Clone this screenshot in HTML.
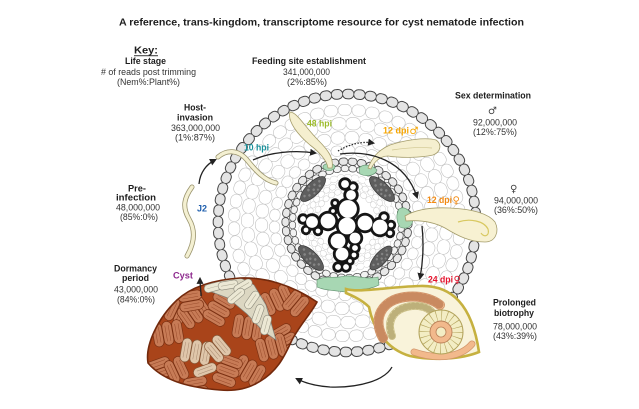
<!DOCTYPE html>
<html><head><meta charset="utf-8">
<style>
html,body{margin:0;padding:0;background:#fff;}
svg{display:block;}
text{font-family:"Liberation Sans","DejaVu Sans",sans-serif;}
.b{font-weight:bold;fill:#1e1e1e;}
.n{fill:#333;}
.sym{font-family:"DejaVu Sans",sans-serif;font-weight:normal;}
</style></head><body>
<svg width="639" height="409" viewBox="0 0 639 409" xmlns="http://www.w3.org/2000/svg">
<defs>
 <marker id="ah" viewBox="0 0 10 10" refX="7" refY="5" markerWidth="7" markerHeight="7" orient="auto" markerUnits="userSpaceOnUse">
   <path d="M0,0 L10,5 L0,10 Z" fill="#222"/>
 </marker>
 <clipPath id="cc"><path d="M148,363 C145,345 158,318 177,300 C190,288 210,280 240,278 C265,277 292,285 317,302 C312,312 300,325 292,340 C285,355 278,372 257,383 C245,390 232,391 220,390 C195,388 165,383 148,363 Z"/></clipPath>
 <g id="egg"><rect x="-4.8" y="-12" width="9.6" height="24" rx="4.8" fill="#c77b56" stroke="#7a3012" stroke-width="0.7"/><path d="M-1.7,-8 V8 M1.7,-8 V8" stroke="#984a2a" stroke-width="0.5" fill="none"/></g>
 <g id="egg2"><rect x="-4.8" y="-12" width="9.6" height="24" rx="4.8" fill="#dfc6aa" stroke="#845636" stroke-width="0.7"/><path d="M-1.7,-8 V8 M1.7,-8 V8" stroke="#a88a70" stroke-width="0.5" fill="none"/></g>
 <g id="egg3"><rect x="-4" y="-10" width="8" height="20" rx="4" fill="#ece8d4" stroke="#8c8a7c" stroke-width="0.6"/><path d="M0,-7 V7" stroke="#a8a490" stroke-width="0.5" fill="none"/></g>
 <g id="phl"><ellipse cx="0" cy="0" rx="16.5" ry="6.5" fill="#5e5e5e" stroke="#383838" stroke-width="0.7"/>
   <g fill="#858585"><circle cx="-11" cy="-1" r="1.3"/><circle cx="-7" cy="2" r="1.3"/><circle cx="-4" cy="-2.5" r="1.3"/><circle cx="0" cy="1" r="1.3"/><circle cx="4" cy="-2" r="1.3"/><circle cx="7" cy="2.5" r="1.3"/><circle cx="10" cy="-1" r="1.3"/><circle cx="-2" cy="4" r="1.1"/><circle cx="3" cy="4" r="1.1"/><circle cx="-1" cy="-4.5" r="1.1"/></g>
 </g>
</defs>

<rect width="639" height="409" fill="#fff"/>

<!-- ===== TEXT ===== -->
<text x="119" y="25.5" font-size="10.5" class="b" textLength="405" lengthAdjust="spacingAndGlyphs">A reference, trans-kingdom, transcriptome resource for cyst nematode infection</text>

<text x="134" y="53.5" font-size="10.5" class="b" textLength="24" lengthAdjust="spacingAndGlyphs">Key:</text>
<rect x="134" y="55.3" width="24" height="0.9" fill="#1e1e1e"/>
<text x="125" y="64" font-size="9" class="b" textLength="41" lengthAdjust="spacingAndGlyphs">Life stage</text>
<text x="101" y="75" font-size="9" class="n" textLength="95" lengthAdjust="spacingAndGlyphs"># of reads post trimming</text>
<text x="117" y="85" font-size="9" class="n" textLength="63" lengthAdjust="spacingAndGlyphs">(Nem%:Plant%)</text>

<text x="252" y="64" font-size="9" class="b" textLength="114" lengthAdjust="spacingAndGlyphs">Feeding site establishment</text>
<text x="283" y="75" font-size="9" class="n" textLength="47" lengthAdjust="spacingAndGlyphs">341,000,000</text>
<text x="287" y="85" font-size="9" class="n" textLength="40" lengthAdjust="spacingAndGlyphs">(2%:85%)</text>

<text x="184" y="110.5" font-size="9" class="b" textLength="22" lengthAdjust="spacingAndGlyphs">Host-</text>
<text x="177" y="120.5" font-size="9" class="b" textLength="36" lengthAdjust="spacingAndGlyphs">invasion</text>
<text x="171" y="131" font-size="9" class="n" textLength="49" lengthAdjust="spacingAndGlyphs">363,000,000</text>
<text x="175" y="140.5" font-size="9" class="n" textLength="40" lengthAdjust="spacingAndGlyphs">(1%:87%)</text>

<text x="455" y="98.5" font-size="9" class="b" textLength="76" lengthAdjust="spacingAndGlyphs">Sex determination</text>
<text x="488" y="114" font-size="10" fill="#444" class="sym">♂</text>
<text x="473" y="125.5" font-size="9" class="n" textLength="44" lengthAdjust="spacingAndGlyphs">92,000,000</text>
<text x="473" y="135" font-size="9" class="n" textLength="44" lengthAdjust="spacingAndGlyphs">(12%:75%)</text>

<text x="510" y="192" font-size="10" fill="#444" class="sym">♀</text>
<text x="494" y="203.5" font-size="9" class="n" textLength="44" lengthAdjust="spacingAndGlyphs">94,000,000</text>
<text x="494" y="213" font-size="9" class="n" textLength="44" lengthAdjust="spacingAndGlyphs">(36%:50%)</text>

<text x="493" y="305.5" font-size="9" class="b" textLength="43" lengthAdjust="spacingAndGlyphs">Prolonged</text>
<text x="494" y="316" font-size="9" class="b" textLength="40" lengthAdjust="spacingAndGlyphs">biotrophy</text>
<text x="493" y="329.5" font-size="9" class="n" textLength="44" lengthAdjust="spacingAndGlyphs">78,000,000</text>
<text x="493" y="339" font-size="9" class="n" textLength="44" lengthAdjust="spacingAndGlyphs">(43%:39%)</text>

<text x="128" y="191.5" font-size="9" class="b" textLength="18" lengthAdjust="spacingAndGlyphs">Pre-</text>
<text x="116" y="200.5" font-size="9" class="b" textLength="40" lengthAdjust="spacingAndGlyphs">infection</text>
<text x="116" y="210.5" font-size="9" class="n" textLength="44" lengthAdjust="spacingAndGlyphs">48,000,000</text>
<text x="120" y="220" font-size="9" class="n" textLength="38" lengthAdjust="spacingAndGlyphs">(85%:0%)</text>

<text x="114" y="271.5" font-size="9" class="b" textLength="43" lengthAdjust="spacingAndGlyphs">Dormancy</text>
<text x="122" y="281" font-size="9" class="b" textLength="27" lengthAdjust="spacingAndGlyphs">period</text>
<text x="114" y="292.5" font-size="9" class="n" textLength="44" lengthAdjust="spacingAndGlyphs">43,000,000</text>
<text x="117" y="302.5" font-size="9" class="n" textLength="38" lengthAdjust="spacingAndGlyphs">(84%:0%)</text>

<!-- ===== ROOT CROSS-SECTION ===== -->
<g fill="none" stroke-linecap="round">
 <circle cx="347" cy="223" r="113" stroke="#c2c2c2" stroke-width="12" stroke-dasharray="2.2 11.721"/>
 <circle cx="347" cy="223" r="113" stroke="#fff" stroke-width="10.8" stroke-dasharray="2.2 11.721"/>
 <circle cx="347" cy="223" r="99.5" stroke="#c2c2c2" stroke-width="13" stroke-dasharray="2.4 12.139" stroke-dashoffset="6"/>
 <circle cx="347" cy="223" r="99.5" stroke="#fff" stroke-width="11.8" stroke-dasharray="2.4 12.139" stroke-dashoffset="6"/>
 <circle cx="347" cy="223" r="85.5" stroke="#c2c2c2" stroke-width="13" stroke-dasharray="1.6 12.537" stroke-dashoffset="3"/>
 <circle cx="347" cy="223" r="85.5" stroke="#fff" stroke-width="11.8" stroke-dasharray="1.6 12.537" stroke-dashoffset="3"/>
 <circle cx="347" cy="223" r="72.5" stroke="#c2c2c2" stroke-width="11" stroke-dasharray="1.6 10.388" stroke-dashoffset="5"/>
 <circle cx="347" cy="223" r="72.5" stroke="#fff" stroke-width="9.8" stroke-dasharray="1.6 10.388" stroke-dashoffset="5"/>
 <circle cx="347" cy="223" r="129" stroke="#454545" stroke-width="10.6" stroke-dasharray="2 9.257"/>
 <circle cx="347" cy="223" r="129" stroke="#e4e4e4" stroke-width="8.6" stroke-dasharray="2 9.257"/>
 <circle cx="347" cy="223" r="61.5" stroke="#474747" stroke-width="8" stroke-dasharray="1.8 7.4005"/>
 <circle cx="347" cy="223" r="61.5" stroke="#e8e8e8" stroke-width="6.4" stroke-dasharray="1.8 7.4005"/>
 <circle cx="347" cy="223" r="54.5" stroke="#4e4e4e" stroke-width="7" stroke-dasharray="1.4 6.3825" stroke-dashoffset="3"/>
 <circle cx="347" cy="223" r="54.5" stroke="#f2f2f2" stroke-width="5.6" stroke-dasharray="1.4 6.3825" stroke-dashoffset="3"/>
 <circle cx="347" cy="223" r="45.5" stroke="#cdcdcd" stroke-width="7" stroke-dasharray="1.2 5.947"/>
 <circle cx="347" cy="223" r="45.5" stroke="#fff" stroke-width="6" stroke-dasharray="1.2 5.947"/>
 <circle cx="347" cy="223" r="38.5" stroke="#cdcdcd" stroke-width="6" stroke-dasharray="1 5.72" stroke-dashoffset="2"/>
 <circle cx="347" cy="223" r="38.5" stroke="#fff" stroke-width="5" stroke-dasharray="1 5.72" stroke-dashoffset="2"/>
 <circle cx="347" cy="223" r="32" stroke="#cdcdcd" stroke-width="6" stroke-dasharray="1 5.70"/>
 <circle cx="347" cy="223" r="32" stroke="#fff" stroke-width="5" stroke-dasharray="1 5.70"/>
</g>

<!-- phloem -->
<use href="#phl" transform="translate(313,189) rotate(-45)"/>
<use href="#phl" transform="translate(382,189) rotate(45)"/>
<use href="#phl" transform="translate(311,258) rotate(45)"/>
<use href="#phl" transform="translate(381,258) rotate(-48) scale(0.92)"/>

<!-- xylem -->
<g fill="#151515">
 <circle cx="347" cy="226" r="11.2"/><circle cx="348" cy="209" r="11.7"/><circle cx="351" cy="195" r="7.7"/><circle cx="345" cy="184" r="6.7"/><circle cx="353" cy="187" r="5.7"/><circle cx="335" cy="203" r="4.7"/><circle cx="333" cy="211" r="4.7"/>
 <circle cx="328" cy="221" r="10.2"/><circle cx="312" cy="222" r="8.7"/><circle cx="303" cy="219" r="5.7"/><circle cx="306" cy="230" r="5.2"/><circle cx="318" cy="231" r="5.2"/>
 <circle cx="365" cy="223" r="10.2"/><circle cx="380" cy="227" r="10.2"/><circle cx="384" cy="217" r="5.7"/><circle cx="391" cy="225" r="5.2"/><circle cx="390" cy="233" r="5.2"/>
 <circle cx="338" cy="241" r="10.2"/><circle cx="355" cy="238" r="8.2"/><circle cx="342" cy="254" r="9.2"/><circle cx="355" cy="248" r="5.7"/><circle cx="354" cy="255" r="5.2"/><circle cx="338" cy="267" r="5.7"/><circle cx="346" cy="267" r="5.7"/><circle cx="350" cy="261" r="4.7"/>
</g>
<g fill="#fff">
 <circle cx="347" cy="226" r="8.4"/><circle cx="348" cy="209" r="8.9"/><circle cx="351" cy="195" r="4.9"/><circle cx="345" cy="184" r="3.9"/><circle cx="353" cy="187" r="2.9"/><circle cx="335" cy="203" r="1.9"/><circle cx="333" cy="211" r="1.9"/>
 <circle cx="328" cy="221" r="7.4"/><circle cx="312" cy="222" r="5.9"/><circle cx="303" cy="219" r="2.9"/><circle cx="306" cy="230" r="2.4"/><circle cx="318" cy="231" r="2.4"/>
 <circle cx="365" cy="223" r="7.4"/><circle cx="380" cy="227" r="7.4"/><circle cx="384" cy="217" r="2.9"/><circle cx="391" cy="225" r="2.4"/><circle cx="390" cy="233" r="2.4"/>
 <circle cx="338" cy="241" r="7.4"/><circle cx="355" cy="238" r="5.4"/><circle cx="342" cy="254" r="6.4"/><circle cx="355" cy="248" r="2.9"/><circle cx="354" cy="255" r="2.4"/><circle cx="338" cy="267" r="2.9"/><circle cx="346" cy="267" r="2.9"/><circle cx="350" cy="261" r="1.9"/>
</g>

<!-- green feeding sites -->
<g fill="#a7d7b3" stroke="#5f8f6d" stroke-width="0.6">
 <ellipse cx="329" cy="167" rx="6" ry="3.6"/>
 <path d="M359,168 C364,163 372,165 377,170 C375,176 366,177 360,174 Z"/>
 <path d="M399,209 C405,205 412,212 413,220 C412,227 406,230 400,227 C396,221 396,214 399,209 Z"/>
 <path d="M317,280 C325,275 335,279 345,276 C356,275 366,280 378,277 L379,285 C368,291 356,288 345,292 C334,290 326,291 317,287 Z"/>
</g>

<!-- ===== CYST ===== -->
<path d="M148,363 C145,345 158,318 177,300 C190,288 210,280 240,278 C265,277 292,285 317,302 C312,312 300,325 292,340 C285,355 278,372 257,383 C245,390 232,391 220,390 C195,388 165,383 148,363 Z" fill="#a9441a"/>
<g clip-path="url(#cc)">
 <g transform="translate(163,305) rotate(25)"><use href="#egg"/><use href="#egg" x="10"/><use href="#egg" x="20"/></g>
 <g transform="translate(158,335) rotate(-10)"><use href="#egg"/><use href="#egg" x="10"/><use href="#egg" x="20"/></g>
 <g transform="translate(158,364) rotate(70)"><use href="#egg"/><use href="#egg" x="10"/></g>
 <g transform="translate(186,318) rotate(-35)"><use href="#egg"/><use href="#egg" x="10"/><use href="#egg" x="20"/></g>
 <g transform="translate(190,296) rotate(80)"><use href="#egg"/><use href="#egg" x="10"/></g>
 <g transform="translate(214,318) rotate(-60)"><use href="#egg"/><use href="#egg" x="10"/><use href="#egg" x="20"/></g>
 <g transform="translate(238,326) rotate(10)"><use href="#egg"/><use href="#egg" x="10"/><use href="#egg" x="20"/></g>
 <g transform="translate(268,304) rotate(-25)"><use href="#egg"/><use href="#egg" x="10"/><use href="#egg" x="20"/></g>
 <g transform="translate(292,300) rotate(40)"><use href="#egg"/><use href="#egg" x="10"/></g>
 <g transform="translate(280,332) rotate(60)"><use href="#egg"/><use href="#egg" x="10"/><use href="#egg" x="20"/></g>
 <g transform="translate(262,350) rotate(-15)"><use href="#egg"/><use href="#egg" x="10"/><use href="#egg" x="20"/></g>
 <g transform="translate(240,366) rotate(30)"><use href="#egg"/><use href="#egg" x="10"/><use href="#egg" x="20"/></g>
 <g transform="translate(224,380) rotate(-70)"><use href="#egg"/><use href="#egg" x="10"/><use href="#egg" x="20"/></g>
 <g transform="translate(195,382) rotate(80)"><use href="#egg"/><use href="#egg" x="10"/><use href="#egg" x="20"/></g>
 <g transform="translate(172,372) rotate(-25)"><use href="#egg"/><use href="#egg" x="10"/></g>
 <g transform="translate(186,350) rotate(10)"><use href="#egg2"/><use href="#egg2" x="10"/><use href="#egg2" x="20"/></g>
 <g transform="translate(214,352) rotate(-40)"><use href="#egg2"/><use href="#egg2" x="10"/></g>
 <g transform="translate(205,370) rotate(70)"><use href="#egg2"/></g>
 <path d="M203,283 L237,276 L254,285 L266,305 L276,340 L263,331 L247,314 L228,298 L209,291 Z" fill="#dcd7c2" stroke="#7f7f78" stroke-width="0.7"/>
 <use href="#egg3" transform="translate(214,287) rotate(75)"/>
 <use href="#egg3" transform="translate(228,285) rotate(80)"/>
 <use href="#egg3" transform="translate(243,286) rotate(60)"/>
 <use href="#egg3" transform="translate(236,296) rotate(50)"/>
 <use href="#egg3" transform="translate(252,300) rotate(35)"/>
 <use href="#egg3" transform="translate(258,314) rotate(20)"/>
 <use href="#egg3" transform="translate(266,325) rotate(15)"/>
</g>
<path d="M148,363 C145,345 158,318 177,300 C190,288 210,280 240,278 C265,277 292,285 317,302 C312,312 300,325 292,340 C285,355 278,372 257,383 C245,390 232,391 220,390 C195,388 165,383 148,363 Z" fill="none" stroke="#72290c" stroke-width="1.6"/>

<!-- ===== FEMALE (24 dpi) ===== -->
<path d="M346,289 C360,293 385,287 420,286 C452,285 472,305 479,352 C462,359 432,361 410,356 C386,349 373,328 369,307 C362,300 353,296 346,293 Z" fill="#f9f3da" stroke="#c6b140" stroke-width="2.6"/>
<g fill="none" stroke-linecap="round">
 <path d="M383,338 C372,318 382,300 405,297 C420,295 432,299 440,305" stroke="#d0946a" stroke-width="10"/>
 <path d="M383,338 C372,318 382,300 405,297 C420,295 432,299 440,305" stroke="#f2b98c" stroke-width="8.4"/>
 <path d="M383,338 C372,318 382,300 405,297 C420,295 432,299 440,305" stroke="#c98a60" stroke-width="8.4" stroke-dasharray="0.6 3.4"/>
 <path d="M392,336 C386,320 394,308 412,306 C425,305 432,310 436,318" stroke="#c9bd84" stroke-width="8"/>
 <path d="M392,336 C386,320 394,308 412,306 C425,305 432,310 436,318" stroke="#f3edc4" stroke-width="6.6"/>
 <path d="M392,336 C386,320 394,308 412,306 C425,305 432,310 436,318" stroke="#bdb07a" stroke-width="6.6" stroke-dasharray="0.6 3.4"/>
 <path d="M414,352 C440,361 462,356 472,344" stroke="#d0946a" stroke-width="7"/>
 <path d="M414,352 C440,361 462,356 472,344" stroke="#f2b98c" stroke-width="5.6"/>
</g>
<circle cx="441" cy="332" r="22" fill="#f3edc4" stroke="#b3a35c" stroke-width="1"/>
<circle cx="441" cy="332" r="16.5" fill="none" stroke="#b3a35c" stroke-width="11" stroke-dasharray="0.6 4.6"/>
<circle cx="441" cy="332" r="11" fill="#f2b98c" stroke="#b98058" stroke-width="0.9"/>
<circle cx="441" cy="332" r="5" fill="#f3edc4" stroke="#b98058" stroke-width="0.8"/>

<!-- ===== NEMATODES ===== -->
<g fill="none" stroke-linecap="round">
 <path d="M192,187 C184,198 182,207 189,219 C196,231 194,244 187,256" stroke="#9a946e" stroke-width="5"/>
 <path d="M192,187 C184,198 182,207 189,219 C196,231 194,244 187,256" stroke="#f4f0d2" stroke-width="3.4"/>
 <path d="M218,157 C226,150 238,149 247,160 C256,171 264,180 276,183" stroke="#9a946e" stroke-width="5"/>
 <path d="M218,157 C226,150 238,149 247,160 C256,171 264,180 276,183" stroke="#f4f0d2" stroke-width="3.4"/>
</g>
<path d="M290,112 C297,112 305,127 318,140 C328,150 334,158 332,168 L328,168 C327,160 318,151 310,145 C298,135 287,121 290,112 Z" fill="#f5efcf" stroke="#a59d6c" stroke-width="0.8"/>
<path d="M368,168 C372,158 378,150 390,145 C405,140 425,137 436,140 C442,144 441,152 433,155 C420,158 400,158 388,156 C380,156 374,162 371,169 Z" fill="#f5efcf" stroke="#a59d6c" stroke-width="0.8"/>
<path d="M392,150 C405,148 420,147 432,148" fill="none" stroke="#cfc690" stroke-width="0.7"/>
<path d="M405,216 C415,210 430,207 450,208 C470,209 488,213 495,222 C500,232 495,242 485,242 C470,242 458,236 445,228 C432,221 418,220 406,221 Z" fill="#f7f1d2" stroke="#a59d6c" stroke-width="0.8"/>
<path d="M458,222 C470,218 484,221 488,229 C490,236 484,238 481,233" fill="none" stroke="#d8c860" stroke-width="1.2"/>

<!-- ===== ARROWS ===== -->
<g fill="none" stroke="#222" stroke-width="1.3">
 <path d="M201,296 C201,290 200,285 200,279" marker-end="url(#ah)"/>
 <path d="M199,184 C200,172 207,164 215,160" marker-end="url(#ah)"/>
 <path d="M253,160 C270,152 295,150 315,153" marker-end="url(#ah)"/>
 <path d="M338,151 C350,144 362,141 373,143" stroke-dasharray="1.4 1.6" marker-end="url(#ah)"/>
 <path d="M340,154 C370,150 405,160 417,197" marker-end="url(#ah)"/>
 <path d="M422,226 C424,245 423,262 420,278" marker-end="url(#ah)"/>
 <path d="M392,367 C385,380 360,388 330,387 C315,386 305,383 297,379" marker-end="url(#ah)"/>
</g>

<!-- ===== COLOURED LABELS ===== -->
<g font-weight="bold" font-size="9.5">
 <text x="173" y="278.5" fill="#8e2a8e" textLength="20" lengthAdjust="spacingAndGlyphs">Cyst</text>
 <text x="197" y="211.5" fill="#1f5fae" textLength="10" lengthAdjust="spacingAndGlyphs">J2</text>
 <text x="244" y="150.5" fill="#18909a" textLength="25" lengthAdjust="spacingAndGlyphs">10 hpi</text>
 <text x="307" y="126.5" fill="#9bbb2a" textLength="25" lengthAdjust="spacingAndGlyphs">48 hpi</text>
 <text x="383" y="133.5" fill="#f7a600" textLength="26" lengthAdjust="spacingAndGlyphs">12 dpi</text>
 <text x="409.5" y="134" fill="#f7a600" font-size="10" class="sym">♂</text>
 <text x="427" y="203" fill="#f28a12" textLength="25" lengthAdjust="spacingAndGlyphs">12 dpi</text>
 <text x="452.5" y="203.5" fill="#f28a12" font-size="10" class="sym">♀</text>
 <text x="428" y="282.5" fill="#e5122c" textLength="25" lengthAdjust="spacingAndGlyphs">24 dpi</text>
 <text x="453.5" y="283" fill="#e5122c" font-size="10" class="sym">♀</text>
</g>
</svg>
</body></html>
